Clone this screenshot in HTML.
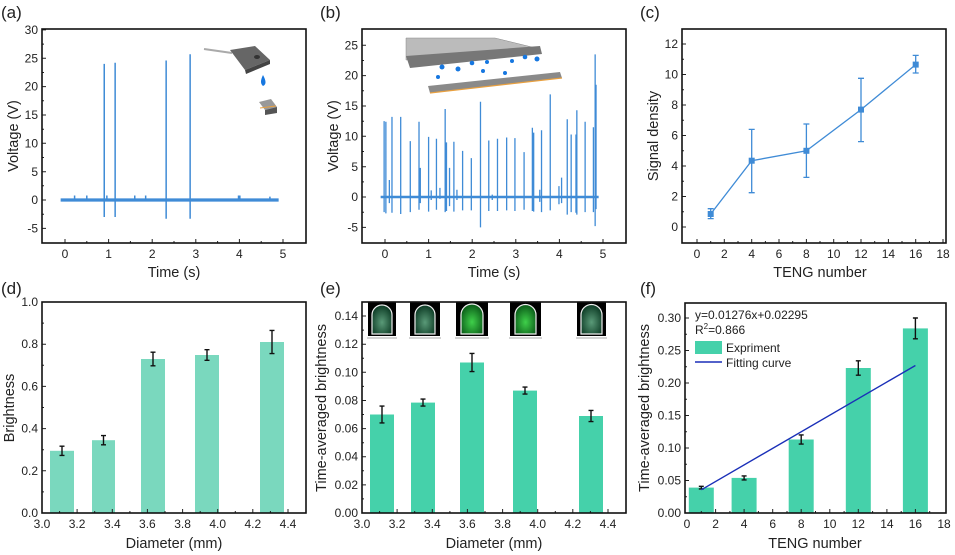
<!DOCTYPE html>
<html><head><meta charset="utf-8"><style>
html,body{margin:0;padding:0;background:#fff}
svg{display:block}
text{font-family:"Liberation Sans",Arial,sans-serif;fill:#222}
.t{font-size:12px}
.ax{font-size:14.5px}
.pl{font-size:17px}
.fr{fill:none;stroke:#111;stroke-width:1.6}
.tk{stroke:#222;stroke-width:1}
.ns{vector-effect:non-scaling-stroke}
.eb{stroke:#111;stroke-width:1.4;fill:none}
</style></head><body>
<svg width="955" height="555" viewBox="0 0 955 555" xmlns="http://www.w3.org/2000/svg">
<defs>
<radialGradient id="gl" cx="50%" cy="60%" r="60%"><stop offset="0" stop-color="#3fd04a"/><stop offset="1" stop-color="#0a5a18"/></radialGradient>
<radialGradient id="gd" cx="50%" cy="60%" r="60%"><stop offset="0" stop-color="#5a9a78"/><stop offset="1" stop-color="#0c3a24"/></radialGradient>
</defs>

<!-- ===== (a) ===== -->
<text class="pl" x="1" y="18">(a)</text>
<g transform="translate(65,200) scale(43.6,-5.67)" fill="none" stroke="#3f8bd6">
<path class="ns" stroke-width="3.2" d="M-0.1 0H4.9"/>
<path class="ns" stroke-width="1.5" d="M0.9 -3V24M1.15 -3V24.2M2.32 -3.3V24.6M2.87 -3.3V25.7M0.22 0V0.8M0.5 0V0.8M1.6 0V0.8M1.85 0V0.8M3.98 0V0.8M4.01 0V0.8M4.7 0V0.6M0.96 0V0.8"/>
</g>
<g class="tk">
<path d="M42 228.4h4M42 200h4M42 171.7h4M42 143.3h4M42 115h4M42 86.6h4M42 58.3h4M42 29.9h4M42 214.2h2M42 185.8h2M42 157.5h2M42 129.2h2M42 100.8h2M42 72.5h2M42 44.1h2"/>
<path d="M65 243v-4M108.6 243v-4M152.2 243v-4M195.8 243v-4M239.4 243v-4M283 243v-4M86.8 243v-2M130.4 243v-2M174 243v-2M217.6 243v-2M261.2 243v-2"/>
</g>
<rect class="fr" x="42" y="29" width="264" height="214"/>
<g class="t" text-anchor="end">
<text x="38" y="232.5">-5</text><text x="38" y="204">0</text><text x="38" y="175.8">5</text><text x="38" y="147.4">10</text><text x="38" y="119">15</text><text x="38" y="90.7">20</text><text x="38" y="62.4">25</text><text x="38" y="34">30</text></g>
<g class="t" text-anchor="middle">
<text x="65" y="258">0</text><text x="108.6" y="258">1</text><text x="152.2" y="258">2</text><text x="195.8" y="258">3</text><text x="239.4" y="258">4</text><text x="283" y="258">5</text></g>
<text class="ax" x="174" y="277" text-anchor="middle">Time (s)</text>
<text class="ax" transform="translate(18,136) rotate(-90)" text-anchor="middle">Voltage (V)</text>
<!-- inset a -->
<path d="M204 49 L232 53" stroke="#aaa" stroke-width="2"/>
<path d="M230 50 L255 46 L270 60 L245 70 Z" fill="#666"/>
<path d="M245 70 L270 60 L270 64 L246 74 Z" fill="#444"/>
<ellipse cx="257" cy="57" rx="3" ry="2" fill="#333"/>
<path d="M263 75 q-4 8 0 11 q5 -2 0 -11z" fill="#1677e0"/>
<path d="M259 102 L271 99 L277 107 L265 110 Z" fill="#999"/>
<path d="M265 110 L277 107 L277 113 L265 115 Z" fill="#555"/>
<path d="M260 108 L276 106" stroke="#e8a040" stroke-width="1"/>

<!-- ===== (b) ===== -->
<text class="pl" x="320" y="18">(b)</text>
<g transform="translate(385,197) scale(43.6,-6.07)" fill="none" stroke="#3f8bd6">
<path class="ns" stroke-width="2.5" d="M-0.1 0H4.9"/>
<path class="ns" stroke-width="1.3" d="M-0.02 -2.5V12.5M0.02 -2.7V12.4M0.1 -1V2.8M0.16 -2.6V13.2M0.36 -2.8V13.2M0.58 -2.5V9.2M0.78 -2.1V12.4M0.81 -1V4.8M1 -2.4V9.9M1.06 -0.5V1.1M1.18 -2.1V9.6M1.26 -0.3V1.5M1.38 -2.5V14.5M1.41 -2.3V9M1.48 -1.5V4.8M1.58 -2.4V9.1M1.65 -0.5V1.2M1.78 -2.2V7.6M1.98 -2.2V6.4M2.19 -5V15.7M2.38 -2.3V9.3M2.46 -0.5V0.4M2.58 -2.3V9.6M2.79 -2.2V9.8M2.98 -2.3V9.7M3.19 -2.1V7.4M3.38 -2.3V11.4M3.41 -2.4V10.6M3.55 -0.8V1.2M3.59 -2.5V11M3.79 -2.2V16.9M3.99 -1.2V1.8M4.05 -1V3.2M4.18 -2.9V12.8M4.27 -2.5V10.3M4.38 -2.6V10.3M4.4 -2.9V14.3M4.59 -2.5V12.4M4.78 -2.5V11.5M4.82 -4.8V23.5M4.84 -2V18.5"/>
</g>
<g class="tk">
<path d="M362 227.4h4M362 197h4M362 166.7h4M362 136.3h4M362 106h4M362 75.6h4M362 45.3h4M362 212.2h2M362 181.9h2M362 151.5h2M362 121.2h2M362 90.8h2M362 60.5h2"/>
<path d="M385 243v-4M428.6 243v-4M472.2 243v-4M515.8 243v-4M559.4 243v-4M603 243v-4M406.8 243v-2M450.4 243v-2M494 243v-2M537.6 243v-2M581.2 243v-2"/>
</g>
<rect class="fr" x="362" y="29" width="264" height="214"/>
<g class="t" text-anchor="end">
<text x="358" y="231.5">-5</text><text x="358" y="201">0</text><text x="358" y="170.8">5</text><text x="358" y="140.4">10</text><text x="358" y="110">15</text><text x="358" y="79.7">20</text><text x="358" y="49.4">25</text></g>
<g class="t" text-anchor="middle">
<text x="385" y="258">0</text><text x="428.6" y="258">1</text><text x="472.2" y="258">2</text><text x="515.8" y="258">3</text><text x="559.4" y="258">4</text><text x="603" y="258">5</text></g>
<text class="ax" x="494" y="277" text-anchor="middle">Time (s)</text>
<text class="ax" transform="translate(338,136) rotate(-90)" text-anchor="middle">Voltage (V)</text>
<!-- inset b -->
<path d="M406 38 L495 38 L540 49 L406 60 Z" fill="#bbb"/>
<path d="M406 38 L495 38 L540 49 L406 60 Z" fill="none" stroke="#888" stroke-width="0.5"/>
<path d="M406 56 L540 46 L542 54 L410 68 Z" fill="#777"/>
<g fill="#1677e0"><circle cx="442" cy="67" r="2.5"/><circle cx="458" cy="69" r="2.5"/><circle cx="472" cy="63" r="2.3"/><circle cx="487" cy="62" r="2"/><circle cx="512" cy="61" r="2"/><circle cx="525" cy="57" r="2.3"/><circle cx="537" cy="59" r="2.5"/><circle cx="438" cy="77" r="2"/><circle cx="483" cy="71" r="2"/><circle cx="505" cy="73" r="2"/></g>
<path d="M428 86 L560 72 L562 78 L430 93 Z" fill="#8a8a8a"/>
<path d="M430 93 L562 78" stroke="#e8a040" stroke-width="1.2"/>

<!-- ===== (c) ===== -->
<text class="pl" x="640" y="18">(c)</text>
<g class="tk">
<path d="M682 227h4M682 196.5h4M682 166h4M682 135.5h4M682 105h4M682 74.5h4M682 44h4M682 211.75h2M682 181.25h2M682 150.75h2M682 120.25h2M682 89.75h2M682 59.25h2"/>
<path d="M697 243v-4M724.3 243v-4M751.7 243v-4M779 243v-4M806.4 243v-4M833.7 243v-4M861 243v-4M888.4 243v-4M915.7 243v-4M943 243v-4M710.7 243v-2M738 243v-2M765.4 243v-2M792.7 243v-2M820 243v-2M847.4 243v-2M874.7 243v-2M902 243v-2M929.4 243v-2"/>
</g>
<rect class="fr" x="682" y="29" width="264" height="214"/>
<g stroke="#3f8bd6" stroke-width="1.3" fill="none">
<path d="M710.7 214L751.7 160.7L806.4 150.8L861 109.6L915.7 64.6"/>
<path d="M710.7 218.6V208.7M707.7 218.6h6M707.7 208.7h6M751.7 192.7V129.4M748.7 192.7h6M748.7 129.4h6M806.4 177.4V124M803.4 177.4h6M803.4 124h6M861 141.6V78.3M858 141.6h6M858 78.3h6M915.7 73V55.4M912.7 73h6M912.7 55.4h6"/>
</g>
<g fill="#3f8bd6"><rect x="707.7" y="211" width="6" height="6"/><rect x="748.7" y="157.7" width="6" height="6"/><rect x="803.4" y="147.8" width="6" height="6"/><rect x="858" y="106.6" width="6" height="6"/><rect x="912.7" y="61.6" width="6" height="6"/></g>
<g class="t" text-anchor="end">
<text x="678" y="231">0</text><text x="678" y="200.5">2</text><text x="678" y="170">4</text><text x="678" y="139.5">6</text><text x="678" y="109">8</text><text x="678" y="78.5">10</text><text x="678" y="48">12</text></g>
<g class="t" text-anchor="middle">
<text x="697" y="258">0</text><text x="724.3" y="258">2</text><text x="751.7" y="258">4</text><text x="779" y="258">6</text><text x="806.4" y="258">8</text><text x="833.7" y="258">10</text><text x="861" y="258">12</text><text x="888.4" y="258">14</text><text x="915.7" y="258">16</text><text x="943" y="258">18</text></g>
<text class="ax" x="820" y="277" text-anchor="middle">TENG number</text>
<text class="ax" transform="translate(658,136) rotate(-90)" text-anchor="middle">Signal density</text>

<!-- ===== (d) ===== -->
<text class="pl" x="1" y="294">(d)</text>
<g fill="#7ad8be">
<rect x="50" y="450.8" width="24" height="62.2"/><rect x="92" y="440.2" width="23" height="72.8"/><rect x="141" y="359" width="24" height="154"/><rect x="195" y="355" width="24" height="158"/><rect x="260" y="342" width="24" height="171"/></g>
<g class="eb">
<path d="M62 446.2V455.4M59.5 446.2h5M59.5 455.4h5M103.5 435.6V444.8M101 435.6h5M101 444.8h5M153 352.2V365.8M150.5 352.2h5M150.5 365.8h5M207 349.7V360.3M204.5 349.7h5M204.5 360.3h5M272 330.4V353.6M269.5 330.4h5M269.5 353.6h5"/></g>
<g class="tk">
<path d="M42 470.8h4M42 428.6h4M42 386.4h4M42 344.2h4M42 491.9h2M42 449.7h2M42 407.5h2M42 365.3h2M42 323.1h2"/>
<path d="M77.1 513v-4M112.3 513v-4M147.4 513v-4M182.6 513v-4M217.7 513v-4M252.8 513v-4M288 513v-4M59.6 513v-2M94.7 513v-2M129.9 513v-2M165 513v-2M200.2 513v-2M235.3 513v-2M270.4 513v-2"/>
</g>
<rect class="fr" x="42" y="302" width="264" height="211"/>
<g class="t" text-anchor="end">
<text x="38" y="517">0.0</text><text x="38" y="474.8">0.2</text><text x="38" y="432.6">0.4</text><text x="38" y="390.4">0.6</text><text x="38" y="348.2">0.8</text><text x="38" y="306">1.0</text></g>
<g class="t" text-anchor="middle">
<text x="42" y="528">3.0</text><text x="77.1" y="528">3.2</text><text x="112.3" y="528">3.4</text><text x="147.4" y="528">3.6</text><text x="182.6" y="528">3.8</text><text x="217.7" y="528">4.0</text><text x="252.8" y="528">4.2</text><text x="288" y="528">4.4</text></g>
<text class="ax" x="174" y="548" text-anchor="middle">Diameter (mm)</text>
<text class="ax" transform="translate(14,408) rotate(-90)" text-anchor="middle">Brightness</text>

<!-- ===== (e) ===== -->
<text class="pl" x="320" y="294">(e)</text>
<g fill="#45d1aa">
<rect x="370" y="414.5" width="24" height="98.5"/><rect x="411" y="402.6" width="24" height="110.4"/><rect x="460" y="362.5" width="24" height="150.5"/><rect x="513" y="390.6" width="24" height="122.4"/><rect x="579" y="416" width="24" height="97"/></g>
<g class="eb">
<path d="M382 406.1V422.9M379.5 406.1h5M379.5 422.9h5M423 399.1V406.1M420.5 399.1h5M420.5 406.1h5M472 353.4V371.6M469.5 353.4h5M469.5 371.6h5M525 387.1V394.1M522.5 387.1h5M522.5 394.1h5M591 410.4V421.6M588.5 410.4h5M588.5 421.6h5"/></g>
<g class="tk">
<path d="M362 484.9h4M362 456.7h4M362 428.6h4M362 400.5h4M362 372.3h4M362 344.2h4M362 316h4M362 498.9h2M362 470.8h2M362 442.7h2M362 414.5h2M362 386.4h2M362 358.2h2M362 330.1h2"/>
<path d="M397.1 513v-4M432.3 513v-4M467.4 513v-4M502.6 513v-4M537.7 513v-4M572.8 513v-4M608 513v-4M379.6 513v-2M414.7 513v-2M449.9 513v-2M485 513v-2M520.2 513v-2M555.3 513v-2M590.4 513v-2"/>
</g>
<!-- LED images -->
<g>
<rect x="368" y="302" width="28" height="34" fill="#000"/><rect x="410" y="302" width="30" height="34" fill="#000"/><rect x="456" y="302" width="32" height="34" fill="#000"/><rect x="510" y="302" width="31" height="34" fill="#000"/><rect x="577" y="302" width="29" height="34" fill="#000"/>
<path d="M372 334V315a10 10 0 0 1 20 0V334Z" fill="url(#gd)" stroke="#eee" stroke-width="1.2"/>
<path d="M415 334V315a10 10 0 0 1 20 0V334Z" fill="url(#gd)" stroke="#eee" stroke-width="1.2"/>
<path d="M461 334V315a11 11 0 0 1 22 0V334Z" fill="url(#gl)" stroke="#eee" stroke-width="1.2"/>
<path d="M515 334V315a10.5 10.5 0 0 1 21 0V334Z" fill="url(#gl)" stroke="#eee" stroke-width="1.2"/>
<path d="M581 334V315a10.5 10.5 0 0 1 21 0V334Z" fill="url(#gd)" stroke="#eee" stroke-width="1.2"/>
<path d="M367 338h30M409 338h32M455 338h34M509 338h33M576 338h31" stroke="#aaa" stroke-width="1"/>
</g>
<rect class="fr" x="362" y="302" width="264" height="211"/>
<g class="t" text-anchor="end">
<text x="358" y="517">0.00</text><text x="358" y="488.9">0.02</text><text x="358" y="460.7">0.04</text><text x="358" y="432.6">0.06</text><text x="358" y="404.5">0.08</text><text x="358" y="376.3">0.10</text><text x="358" y="348.2">0.12</text><text x="358" y="320">0.14</text></g>
<g class="t" text-anchor="middle">
<text x="362" y="528">3.0</text><text x="397.1" y="528">3.2</text><text x="432.3" y="528">3.4</text><text x="467.4" y="528">3.6</text><text x="502.6" y="528">3.8</text><text x="537.7" y="528">4.0</text><text x="572.8" y="528">4.2</text><text x="608" y="528">4.4</text></g>
<text class="ax" x="494" y="548" text-anchor="middle">Diameter (mm)</text>
<text class="ax" transform="translate(326,408) rotate(-90)" text-anchor="middle">Time-averaged brightness</text>

<!-- ===== (f) ===== -->
<text class="pl" x="640" y="294">(f)</text>
<g fill="#45d1aa">
<rect x="688.8" y="487.6" width="25" height="25.4"/><rect x="731.6" y="477.9" width="25" height="35.1"/><rect x="788.7" y="439.5" width="25" height="73.5"/><rect x="845.8" y="368" width="25" height="145"/><rect x="902.9" y="328.4" width="25" height="184.6"/></g>
<g class="eb">
<path d="M701.3 486.3V488.9M698.8 486.3h5M698.8 488.9h5M744.1 475.9V479.9M741.6 475.9h5M741.6 479.9h5M801.2 434.9V444.1M798.7 434.9h5M798.7 444.1h5M858.3 360.8V375.2M855.8 360.8h5M855.8 375.2h5M915.4 318V338.8M912.9 318h5M912.9 338.8h5"/></g>
<path d="M701.3 489.8L915.4 365.5" stroke="#1a2fb8" stroke-width="1.4"/>
<g class="tk">
<path d="M685 480.5h4M685 448h4M685 415.5h4M685 383h4M685 350.5h4M685 318h4M685 496.75h2M685 464.25h2M685 431.75h2M685 399.25h2M685 366.75h2M685 334.25h2"/>
<path d="M715.6 513v-4M744.1 513v-4M772.7 513v-4M801.2 513v-4M829.8 513v-4M858.3 513v-4M886.9 513v-4M915.4 513v-4M701.3 513v-2M729.9 513v-2M758.4 513v-2M787 513v-2M815.5 513v-2M844.1 513v-2M872.6 513v-2M901.2 513v-2M929.7 513v-2"/>
</g>
<rect class="fr" x="685" y="303" width="261" height="210"/>
<text class="t" x="695" y="319">y=0.01276x+0.02295</text>
<text class="t" x="695" y="334">R<tspan font-size="8" dy="-5">2</tspan><tspan dy="5">=0.866</tspan></text>
<rect x="695" y="341" width="27" height="13" fill="#45d1aa"/>
<text class="t" x="726" y="352">Expriment</text>
<path d="M695 362h27" stroke="#1a2fb8" stroke-width="1.5"/>
<text class="t" x="726" y="367">Fitting curve</text>
<g class="t" text-anchor="end">
<text x="681" y="517">0.00</text><text x="681" y="484.5">0.05</text><text x="681" y="452">0.10</text><text x="681" y="419.5">0.15</text><text x="681" y="387">0.20</text><text x="681" y="354.5">0.25</text><text x="681" y="322">0.30</text></g>
<g class="t" text-anchor="middle">
<text x="687" y="528">0</text><text x="715.6" y="528">2</text><text x="744.1" y="528">4</text><text x="772.7" y="528">6</text><text x="801.2" y="528">8</text><text x="829.8" y="528">10</text><text x="858.3" y="528">12</text><text x="886.9" y="528">14</text><text x="915.4" y="528">16</text><text x="944" y="528">18</text></g>
<text class="ax" x="815" y="548" text-anchor="middle">TENG number</text>
<text class="ax" transform="translate(649,408) rotate(-90)" text-anchor="middle">Time-averaged brightness</text>
</svg>
</body></html>
